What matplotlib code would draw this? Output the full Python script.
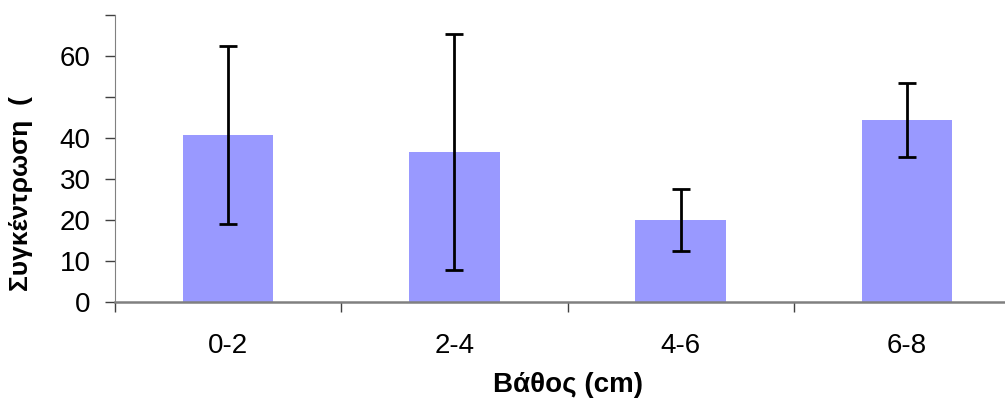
import numpy as np
import matplotlib.pyplot as plt
from matplotlib.ticker import FixedLocator

# depth classes and mean concentration with error
depths = ["0-2", "2-4", "4-6", "6-8"]
conc = [40.8, 36.5, 20.1, 44.5]
err = [21.7, 28.7, 7.5, 9.0]

yticks = [0, 10, 20, 30, 40, 50, 60, 70]
ylabels = ["0", "10", "20", "30", "40", "", "60", ""]

plt.rcParams['font.family'] = ['Liberation Sans', 'DejaVu Sans']

fig = plt.figure(figsize=(10.05, 3.99), dpi=100)
ax = fig.add_axes([0.1144, 0.2419, 0.9006, 0.7213])

x = np.arange(len(depths))
ax.bar(x, conc, width=0.4, color='#9999ff', zorder=2)
ax.errorbar(x, conc, yerr=err, fmt='none', ecolor='black',
            elinewidth=2, capsize=6.5, capthick=2, zorder=3)

ax.set_xlim(-0.5, len(depths) - 0.5)
ax.set_ylim(0, 70)

ax.set_yticks(yticks)
ax.set_yticklabels(ylabels, fontsize=20)
ax.set_xticks(x)
ax.set_xticklabels(depths, fontsize=20)
ax.tick_params(axis='x', which='major', length=0, pad=22)
ax.xaxis.set_minor_locator(FixedLocator(np.arange(-0.5, len(depths), 1.0)))
ax.tick_params(axis='x', which='minor', length=7, width=1, color='#404040', direction='out')
ax.tick_params(axis='y', length=7.5, width=1, color='#404040', direction='out', pad=10)

for s in ['top', 'right']:
    ax.spines[s].set_visible(False)
ax.spines['left'].set_color('#808080')
ax.spines['bottom'].set_color('#808080')
ax.spines['bottom'].set_linewidth(1.8)

ax.set_xlabel("Βάθος (cm)", fontsize=20, fontweight='bold', labelpad=9.5)
ax.set_ylabel("Συγκέντρωση  (", fontsize=19, fontweight='bold')
ax.yaxis.set_label_coords(-0.0906, 0.379)

fig.savefig("out.png", dpi=100)
